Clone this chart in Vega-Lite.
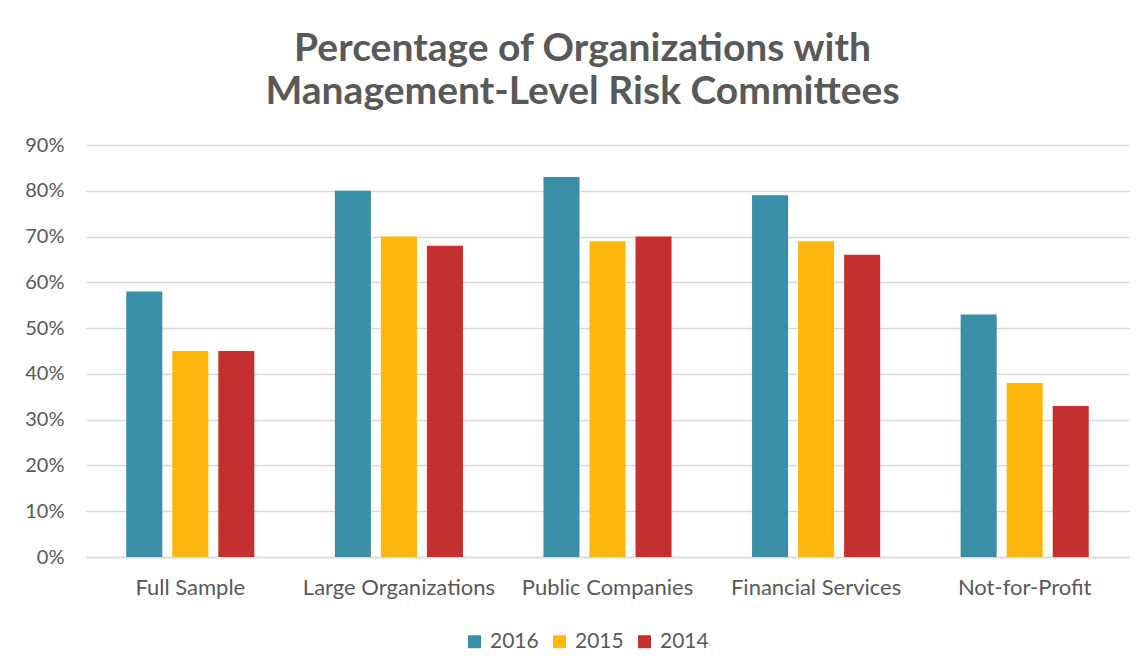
{
  "$schema": "https://vega.github.io/schema/vega-lite/v6.json",
  "autosize": {"type": "none"},
  "width": 1043,
  "height": 412,
  "padding": {"left": 86, "top": 145, "right": 16, "bottom": 115},
  "background": "white",
  "title": {
    "text": ["Percentage of Organizations with", "Management-Level Risk Committees"],
    "font": "Lato",
    "fontSize": 39,
    "fontWeight": "bold",
    "color": "#595959",
    "lineHeight": 43,
    "anchor": "middle",
    "dx": -25,
    "offset": 23
  },
  "data": {
    "values": [
      {"group": "Full Sample", "year": "2016", "value": 0.58},
      {"group": "Full Sample", "year": "2015", "value": 0.45},
      {"group": "Full Sample", "year": "2014", "value": 0.45},
      {"group": "Large Organizations", "year": "2016", "value": 0.80},
      {"group": "Large Organizations", "year": "2015", "value": 0.70},
      {"group": "Large Organizations", "year": "2014", "value": 0.68},
      {"group": "Public Companies", "year": "2016", "value": 0.83},
      {"group": "Public Companies", "year": "2015", "value": 0.69},
      {"group": "Public Companies", "year": "2014", "value": 0.70},
      {"group": "Financial Services", "year": "2016", "value": 0.79},
      {"group": "Financial Services", "year": "2015", "value": 0.69},
      {"group": "Financial Services", "year": "2014", "value": 0.66},
      {"group": "Not-for-Profit", "year": "2016", "value": 0.53},
      {"group": "Not-for-Profit", "year": "2015", "value": 0.38},
      {"group": "Not-for-Profit", "year": "2014", "value": 0.33}
    ]
  },
  "mark": {"type": "bar"},
  "encoding": {
    "x": {
      "field": "group",
      "type": "nominal",
      "sort": null,
      "scale": {"paddingInner": 0.338, "paddingOuter": 0.169},
      "axis": {
        "title": null,
        "labelAngle": 0,
        "labelFont": "Lato",
        "labelFontSize": 22,
        "labelColor": "#595959",
        "labelPadding": 20,
        "labelLimit": 0,
        "labelOverlap": false,
        "ticks": false,
        "domainColor": "#d9d9d9",
        "domainWidth": 1.5
      }
    },
    "xOffset": {
      "field": "year",
      "type": "nominal",
      "sort": ["2016", "2015", "2014"],
      "scale": {"paddingInner": 0.217, "paddingOuter": 0.1085}
    },
    "y": {
      "field": "value",
      "type": "quantitative",
      "scale": {"domain": [0, 0.9]},
      "axis": {
        "title": null,
        "format": ".0%",
        "values": [0, 0.1, 0.2, 0.3, 0.4, 0.5, 0.6, 0.7, 0.8, 0.9],
        "labelFont": "Lato",
        "labelFontSize": 20,
        "labelColor": "#595959",
        "labelPadding": 22,
        "ticks": false,
        "domain": false,
        "gridColor": "#d9d9d9",
        "gridWidth": 1.5
      }
    },
    "color": {
      "field": "year",
      "type": "nominal",
      "sort": ["2016", "2015", "2014"],
      "scale": {"domain": ["2016", "2015", "2014"], "range": ["#3A8FA7", "#FFB60F", "#C4302F"]},
      "legend": {
        "title": null,
        "orient": "none",
        "direction": "horizontal",
        "legendX": 378,
        "legendY": 486,
        "symbolType": "square",
        "symbolSize": 169,
        "symbolStrokeWidth": 0,
        "labelFont": "Lato",
        "labelFontSize": 21,
        "labelColor": "#595959",
        "columnPadding": 10,
        "labelOffset": 5
      }
    }
  },
  "config": {"view": {"stroke": null}}
}
